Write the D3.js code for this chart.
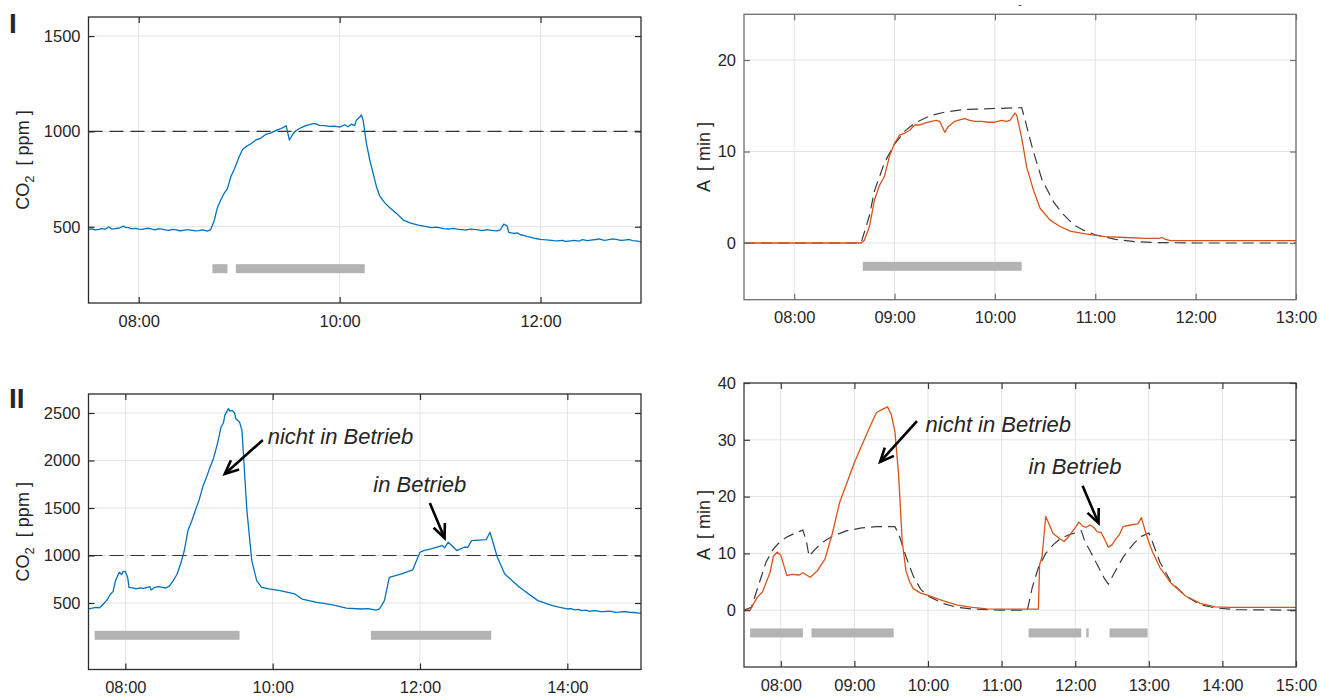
<!DOCTYPE html>
<html><head><meta charset="utf-8">
<script src="https://cdn.jsdelivr.net/npm/d3@7"></script>
<style>
body{margin:0;background:#fff}
svg{display:block}
text{font-family:"Liberation Sans",Arial,Helvetica,sans-serif;fill:#262626}
</style></head>
<body><svg id="c" width="1331" height="700"></svg>
<script>
// ---------------- DATA ----------------
// Panel I : CO2 [ppm]
const co2I = [["07:30",487],["07:32",489],["07:34",484],["07:36",486],["07:38",490],["07:40",487],["07:42",499],["07:44",488],["07:46",490],["07:48",492],["07:51",503],["07:52",497],["07:54",495],["07:56",489],["07:58",491],["08:00",488],["08:02",486],["08:04",490],["08:06",492],["08:08",487],["08:10",484],["08:12",490],["08:14",488],["08:16",483],["08:18",481],["08:20",486],["08:22",485],["08:24",479],["08:26",480],["08:28",484],["08:30",483],["08:32",481],["08:34",478],["08:36",480],["08:38",484],["08:40",480],["08:41",477],["08:43",485],["08:45",530],["08:47",600],["08:49",640],["08:51",675],["08:53",700],["08:55",762],["08:57",800],["09:00",867],["09:02",905],["09:04",920],["09:07",935],["09:10",955],["09:13",965],["09:16",985],["09:19",992],["09:22",1005],["09:25",1015],["09:27",1024],["09:28",1030],["09:30",955],["09:32",985],["09:34",1005],["09:36",1015],["09:39",1028],["09:42",1035],["09:45",1042],["09:48",1032],["09:51",1030],["09:54",1026],["09:57",1028],["10:00",1022],["10:03",1035],["10:05",1024],["10:07",1038],["10:09",1030],["10:10",1059],["10:12",1075],["10:13",1086],["10:14",1060],["10:16",937],["10:18",850],["10:20",780],["10:22",710],["10:24",660],["10:27",625],["10:30",600],["10:34",570],["10:38",535],["10:42",520],["10:47",509],["10:51",502],["10:55",495],["10:58",498],["11:00",494],["11:02",490],["11:05",488],["11:08",491],["11:10",487],["11:13",485],["11:15",482],["11:18",488],["11:20",486],["11:23",483],["11:25",480],["11:28",485],["11:30",482],["11:32",480],["11:34",478],["11:36",484],["11:38",514],["11:40",505],["11:41",470],["11:44",465],["11:46",468],["11:48",458],["11:50",455],["11:52",448],["11:54",446],["11:56",440],["11:58",437],["12:00",434],["12:02",432],["12:05",430],["12:08",427],["12:10",426],["12:13",429],["12:15",423],["12:18",426],["12:20",428],["12:23",424],["12:25",432],["12:28",427],["12:30",430],["12:33",433],["12:35",436],["12:38",429],["12:40",431],["12:43",436],["12:45",434],["12:48",428],["12:50",430],["12:53",433],["12:55",427],["12:58",424],["13:00",421]];
const barsI = [["08:44","08:53"],["08:58","10:15"]];
const barLevelI = 280;
const limitCO2 = 1000;

// Panel I : A [min] measured and model
const ameasI = [["07:30",0],["08:40",0],["08:42",0.3],["08:45",1.8],["08:48",4.7],["08:51",6.3],["08:54",7.3],["08:57",9.5],["09:00",10.9],["09:03",11.8],["09:06",12.0],["09:09",12.3],["09:12",12.9],["09:15",12.9],["09:18",13.1],["09:22",13.3],["09:25",13.4],["09:27",13.3],["09:30",12.1],["09:32",12.7],["09:34",13.0],["09:36",13.3],["09:40",13.5],["09:42",13.6],["09:45",13.4],["09:48",13.3],["09:52",13.3],["09:56",13.2],["10:00",13.2],["10:04",13.4],["10:07",13.3],["10:09",13.4],["10:12",14.2],["10:13",14.0],["10:16",11.5],["10:19",8.3],["10:23",5.8],["10:27",3.8],["10:33",2.5],["10:39",1.8],["10:45",1.3],["10:54",1.0],["11:06",0.7],["11:18",0.6],["11:30",0.5],["11:38",0.5],["11:40",0.6],["11:42",0.4],["11:45",0.25],["12:00",0.25],["13:00",0.25]];
const amodelI = [["07:30",0],["08:40",0],["08:45",3.0],["08:48",5.7],["08:54",8.8],["09:00",10.8],["09:06",12.2],["09:12",13.1],["09:21",13.9],["09:30",14.3],["09:42",14.6],["10:00",14.7],["10:16",14.8],["10:18",13.5],["10:20",12.0],["10:23",10.0],["10:28",7.0],["10:35",4.5],["10:40",3.3],["10:47",2.0],["10:53",1.4],["11:00",0.9],["11:12",0.4],["11:24",0.15],["11:36",0.05],["12:00",0],["13:00",0]];
const barsAI = [["08:41","10:16"]];
const barLevelAI = -2.55;

// Panel II : CO2 [ppm]
const co2II = [["07:30",437],["07:33",445],["07:36",454],["07:39",450],["07:42",489],["07:45",530],["07:48",595],["07:50",620],["07:52",735],["07:55",823],["07:57",800],["07:58",830],["08:00",834],["08:02",760],["08:03",665],["08:06",660],["08:09",648],["08:12",660],["08:15",655],["08:18",665],["08:20",672],["08:21",637],["08:24",665],["08:27",672],["08:30",665],["08:33",658],["08:36",680],["08:39",735],["08:42",800],["08:45",911],["08:48",1050],["08:51",1263],["08:54",1360],["08:57",1474],["09:00",1580],["09:03",1720],["09:06",1820],["09:09",1930],["09:12",2030],["09:15",2177],["09:18",2352],["09:20",2400],["09:21",2475],["09:24",2546],["09:25",2520],["09:27",2528],["09:29",2500],["09:30",2440],["09:33",2405],["09:35",2317],["09:39",1474],["09:43",946],["09:47",735],["09:51",665],["09:57",648],["10:06",630],["10:18",595],["10:24",542],["10:36",507],["10:48",482],["11:00",447],["11:12",437],["11:18",440],["11:24",426],["11:27",437],["11:31",525],["11:35",770],["11:45",806],["11:54",848],["12:00",1034],["12:03",1052],["12:09",1070],["12:18",1105],["12:20",1080],["12:23",1140],["12:30",1052],["12:36",1087],["12:39",1087],["12:42",1157],["12:54",1168],["12:57",1245],["13:03",982],["13:09",806],["13:21",665],["13:36",525],["13:42",498],["13:48",472],["13:54",455],["14:00",437],["14:03",440],["14:06",428],["14:09",432],["14:12",420],["14:15",425],["14:18",412],["14:21",420],["14:24",418],["14:27",410],["14:30",410],["14:33",415],["14:36",412],["14:39",402],["14:42",405],["14:45",410],["14:48",408],["14:51",402],["14:54",400],["14:57",397],["15:00",391]];
const barsII = [["07:35","09:33"],["11:20","12:58"]];
const barLevelII = 160;

// Panel II : A [min] measured and model
const ameasII = [["07:30",0],["07:35",0],["07:38",1.2],["07:41",2.3],["07:45",3.2],["07:51",6.5],["07:54",9.5],["07:57",10.2],["08:00",9.7],["08:03",7.5],["08:05",6.1],["08:09",6.3],["08:15",6.2],["08:18",6.6],["08:24",5.8],["08:30",7.0],["08:36",9.0],["08:42",13.5],["08:48",19.0],["08:54",22.5],["09:00",26.0],["09:06",29.0],["09:12",32.0],["09:18",34.8],["09:24",35.5],["09:27",35.8],["09:30",34.5],["09:33",31.5],["09:36",24.0],["09:39",12.0],["09:42",7.0],["09:45",5.0],["09:48",3.8],["09:54",3.0],["10:00",2.6],["10:12",1.7],["10:24",0.9],["10:36",0.5],["10:48",0.25],["11:00",0.2],["11:30",0.2],["11:31",8.0],["11:33",9.5],["11:36",16.5],["11:39",15.0],["11:42",13.5],["11:48",12.5],["11:51",12.1],["11:54",12.8],["12:00",14.5],["12:03",15.5],["12:06",14.8],["12:09",14.6],["12:12",15.0],["12:15",14.6],["12:18",13.8],["12:21",13.7],["12:24",12.5],["12:27",11.1],["12:30",11.5],["12:33",12.5],["12:36",13.3],["12:39",14.7],["12:45",15.0],["12:51",15.2],["12:54",16.3],["12:57",14.0],["13:00",12.0],["13:03",10.3],["13:09",7.5],["13:18",4.8],["13:30",2.5],["13:42",1.2],["13:54",0.6],["14:06",0.5],["15:00",0.5]];
const amodelII = [["07:30",0],["07:36",0.5],["07:42",4.5],["07:48",8.5],["07:54",10.8],["08:00",12.2],["08:06",13.0],["08:12",13.6],["08:18",14.1],["08:21",12.0],["08:23",9.5],["08:27",10.5],["08:33",11.8],["08:42",13.0],["08:54",14.0],["09:06",14.5],["09:18",14.7],["09:33",14.7],["09:36",13.5],["09:42",9.5],["09:48",6.0],["09:54",3.7],["10:00",2.5],["10:12",1.2],["10:24",0.5],["10:36",0.2],["11:00",0],["11:21",0],["11:25",4.0],["11:30",7.5],["11:36",10.0],["11:42",11.5],["11:48",12.6],["11:54",13.2],["12:00",13.6],["12:05",14.0],["12:08",12.0],["12:12",10.5],["12:18",8.0],["12:24",5.5],["12:27",4.6],["12:33",7.0],["12:39",9.3],["12:48",11.8],["12:54",13.0],["13:00",13.6],["13:03",12.0],["13:09",8.5],["13:18",5.0],["13:30",2.5],["13:42",1.0],["13:54",0.4],["14:12",0.1],["15:00",0]];
const barsAII = [["07:35","08:18"],["08:25","09:32"],["11:22","12:05"],["12:09","12:11"],["12:28","12:59"]];
const barLevelAII = -4;

// tick labels
const xTicksI_co2 = ["08:00","10:00","12:00"];
const xTicksI_a = ["08:00","09:00","10:00","11:00","12:00","13:00"];
const xTicksII_co2 = ["08:00","10:00","12:00","14:00"];
const xTicksII_a = ["08:00","09:00","10:00","11:00","12:00","13:00","14:00","15:00"];
const yTicksI_co2 = [500,1000,1500];
const yTicksI_a = [0,10,20];
const yTicksII_co2 = [500,1000,1500,2000,2500];
const yTicksII_a = [0,10,20,30,40];

// annotations: [label, textTime, textValue, arrowFromTime, arrowFromValue, arrowToTime, arrowToValue]
const annII_co2 = [["nicht in Betrieb","09:56",2170,"09:52",2216,"09:21",1858],["in Betrieb","11:22",1665,"12:08",1553,"12:20",1184]];
const annII_a = [["nicht in Betrieb","09:58",31.3,"09:51",33.3,"09:21",26.1],["in Betrieb","11:22",23.9,"12:06",21.9,"12:19",15.35]];

// ---------------- DRAWING ----------------
const pt = d3.timeParse("%H:%M");
const svg = d3.select("#c");
let clipId = 0;

function panel(o){
  const x = d3.scaleTime().domain([pt(o.xd[0]), pt(o.xd[1])]).range([o.l, o.r]);
  const y = d3.scaleLinear().domain(o.yd).range([o.b, o.t]);
  const g = svg.append("g");
  const cid = "clip" + (clipId++);
  g.append("clipPath").attr("id", cid).append("rect")
    .attr("x", o.l).attr("y", o.t).attr("width", o.r - o.l).attr("height", o.b - o.t);

  // grid
  const xt = o.xt.map(pt);
  g.selectAll(null).data(xt).join("line")
    .attr("x1", d => x(d)).attr("x2", d => x(d)).attr("y1", o.t).attr("y2", o.b)
    .attr("stroke", "#e3e3e3").attr("stroke-width", 1);
  g.selectAll(null).data(o.yt).join("line")
    .attr("y1", d => y(d)).attr("y2", d => y(d)).attr("x1", o.l).attr("x2", o.r)
    .attr("stroke", "#e3e3e3").attr("stroke-width", 1);

  const plot = g.append("g").attr("clip-path", `url(#${cid})`);

  if (o.limit !== undefined) {
    plot.append("line").attr("x1", o.l).attr("x2", o.r)
      .attr("y1", y(o.limit)).attr("y2", y(o.limit))
      .attr("stroke", "#333").attr("stroke-width", 1.2).attr("stroke-dasharray", "14,7");
  }
  plot.selectAll(null).data(o.bars).join("rect")
    .attr("x", d => x(pt(d[0]))).attr("width", d => x(pt(d[1])) - x(pt(d[0])))
    .attr("y", y(o.barLevel) - 4.5).attr("height", 9).attr("fill", "#b3b3b3");

  const line = d3.line().x(d => x(pt(d[0]))).y(d => y(d[1]));
  if (o.model) {
    plot.append("path").datum(o.model).attr("d", line).attr("fill", "none")
      .attr("stroke", "#3a3a3a").attr("stroke-width", 1.2).attr("stroke-dasharray", "11,6");
  }
  plot.append("path").datum(o.data).attr("d", line).attr("fill", "none")
    .attr("stroke", o.color).attr("stroke-width", 1.3).attr("stroke-linejoin", "round");

  g.append("rect").attr("x", o.l).attr("y", o.t).attr("width", o.r - o.l).attr("height", o.b - o.t)
    .attr("fill", "none").attr("stroke", o.boxColor).attr("stroke-width", 1.3);

  const fmt = d3.timeFormat("%H:%M");
  const ax = g.append("g").attr("transform", `translate(0,${o.b})`)
    .call(d3.axisBottom(x).tickValues(xt).tickFormat(fmt).tickSizeInner(-6).tickSizeOuter(0).tickPadding(12));
  const axT = g.append("g").attr("transform", `translate(0,${o.t})`)
    .call(d3.axisTop(x).tickValues(xt).tickFormat("").tickSizeInner(-6).tickSizeOuter(0));
  const ay = g.append("g").attr("transform", `translate(${o.l},0)`)
    .call(d3.axisLeft(y).tickValues(o.yt).tickFormat(d3.format("d")).tickSizeInner(-6).tickSizeOuter(0).tickPadding(8));
  const ayR = g.append("g").attr("transform", `translate(${o.r},0)`)
    .call(d3.axisRight(y).tickValues(o.yt).tickFormat("").tickSizeInner(-6).tickSizeOuter(0));
  [ax, axT, ay, ayR].forEach(a => {
    a.select(".domain").remove();
    a.selectAll(".tick line").attr("stroke", o.boxColor).attr("stroke-width", 1.2);
    a.selectAll("text").attr("font-size", 16.5).attr("fill", "#262626")
      .attr("font-family", '"Liberation Sans",Arial,sans-serif');
  });

  const yl = g.append("text")
    .attr("transform", `translate(${o.yLabelX},${(o.t + o.b) / 2}) rotate(-90)`)
    .attr("text-anchor", "middle").attr("font-size", 18);
  o.ylabel(yl);

  if (o.ann) {
    o.ann.forEach(a => {
      g.append("text").attr("x", x(pt(a[1]))).attr("y", y(a[2]))
        .attr("font-size", 22).attr("font-style", "italic").attr("fill", "#111").text(a[0]);
      const x1 = x(pt(a[3])), y1 = y(a[4]), x2 = x(pt(a[5])), y2 = y(a[6]);
      g.append("line").attr("x1", x1).attr("y1", y1).attr("x2", x2).attr("y2", y2)
        .attr("stroke", "#000").attr("stroke-width", 2.6);
      const ang = Math.atan2(y1 - y2, x1 - x2), L = 15, w = 0.42;
      const p = [[x2 + L * Math.cos(ang + w), y2 + L * Math.sin(ang + w)], [x2, y2], [x2 + L * Math.cos(ang - w), y2 + L * Math.sin(ang - w)]];
      g.append("path").attr("d", d3.line()(p)).attr("fill", "none")
        .attr("stroke", "#000").attr("stroke-width", 2.6).attr("stroke-linejoin", "miter");
    });
  }
  return {x, y};
}

const co2Label = t => { t.attr("xml:space","preserve"); t.append("tspan").text("CO"); t.append("tspan").attr("font-size", 13).attr("dy", 5).text("2");
  t.append("tspan").attr("dy", -5).text("  [ ppm ]"); };
const aLabel = t => { t.attr("xml:space","preserve").text("A  [ min ]"); };

panel({l:88.5, r:641, t:17, b:303, xd:["07:30","13:00"], yd:[100,1600], xt:xTicksI_co2, yt:yTicksI_co2,
  data:co2I, color:"#0072BD", bars:barsI, barLevel:barLevelI, limit:limitCO2, boxColor:"#2b2b2b",
  yLabelX:29, ylabel:co2Label});
panel({l:744, r:1296, t:14.3, b:299.7, xd:["07:30","13:00"], yd:[-6.2,25], xt:xTicksI_a, yt:yTicksI_a,
  data:ameasI, model:amodelI, color:"#D95319", bars:barsAI, barLevel:barLevelAI, boxColor:"#6e6e6e",
  yLabelX:710, ylabel:aLabel});
panel({l:88.5, r:641, t:394, b:669.5, xd:["07:30","15:00"], yd:[-200,2700], xt:xTicksII_co2, yt:yTicksII_co2,
  data:co2II, color:"#0072BD", bars:barsII, barLevel:barLevelII, limit:limitCO2, boxColor:"#2b2b2b",
  yLabelX:29, ylabel:co2Label, ann:annII_co2});
panel({l:744, r:1296, t:383, b:667, xd:["07:30","15:00"], yd:[-10,40], xt:xTicksII_a, yt:yTicksII_a,
  data:ameasII, model:amodelII, color:"#D95319", bars:barsAII, barLevel:barLevelAII, boxColor:"#3a3a3a",
  yLabelX:710, ylabel:aLabel, ann:annII_a});

svg.append("text").attr("x", 9).attr("y", 33).attr("font-size", 28).attr("font-weight", "900").attr("fill","#000").text("I");
svg.append("text").attr("x", 9).attr("y", 408).attr("font-size", 28).attr("font-weight", "900").attr("fill","#000").text("II");
svg.append("text").attr("x", 1020).attr("y", 8).attr("text-anchor","middle").attr("font-size", 10).text("-");
</script>
</body></html>
